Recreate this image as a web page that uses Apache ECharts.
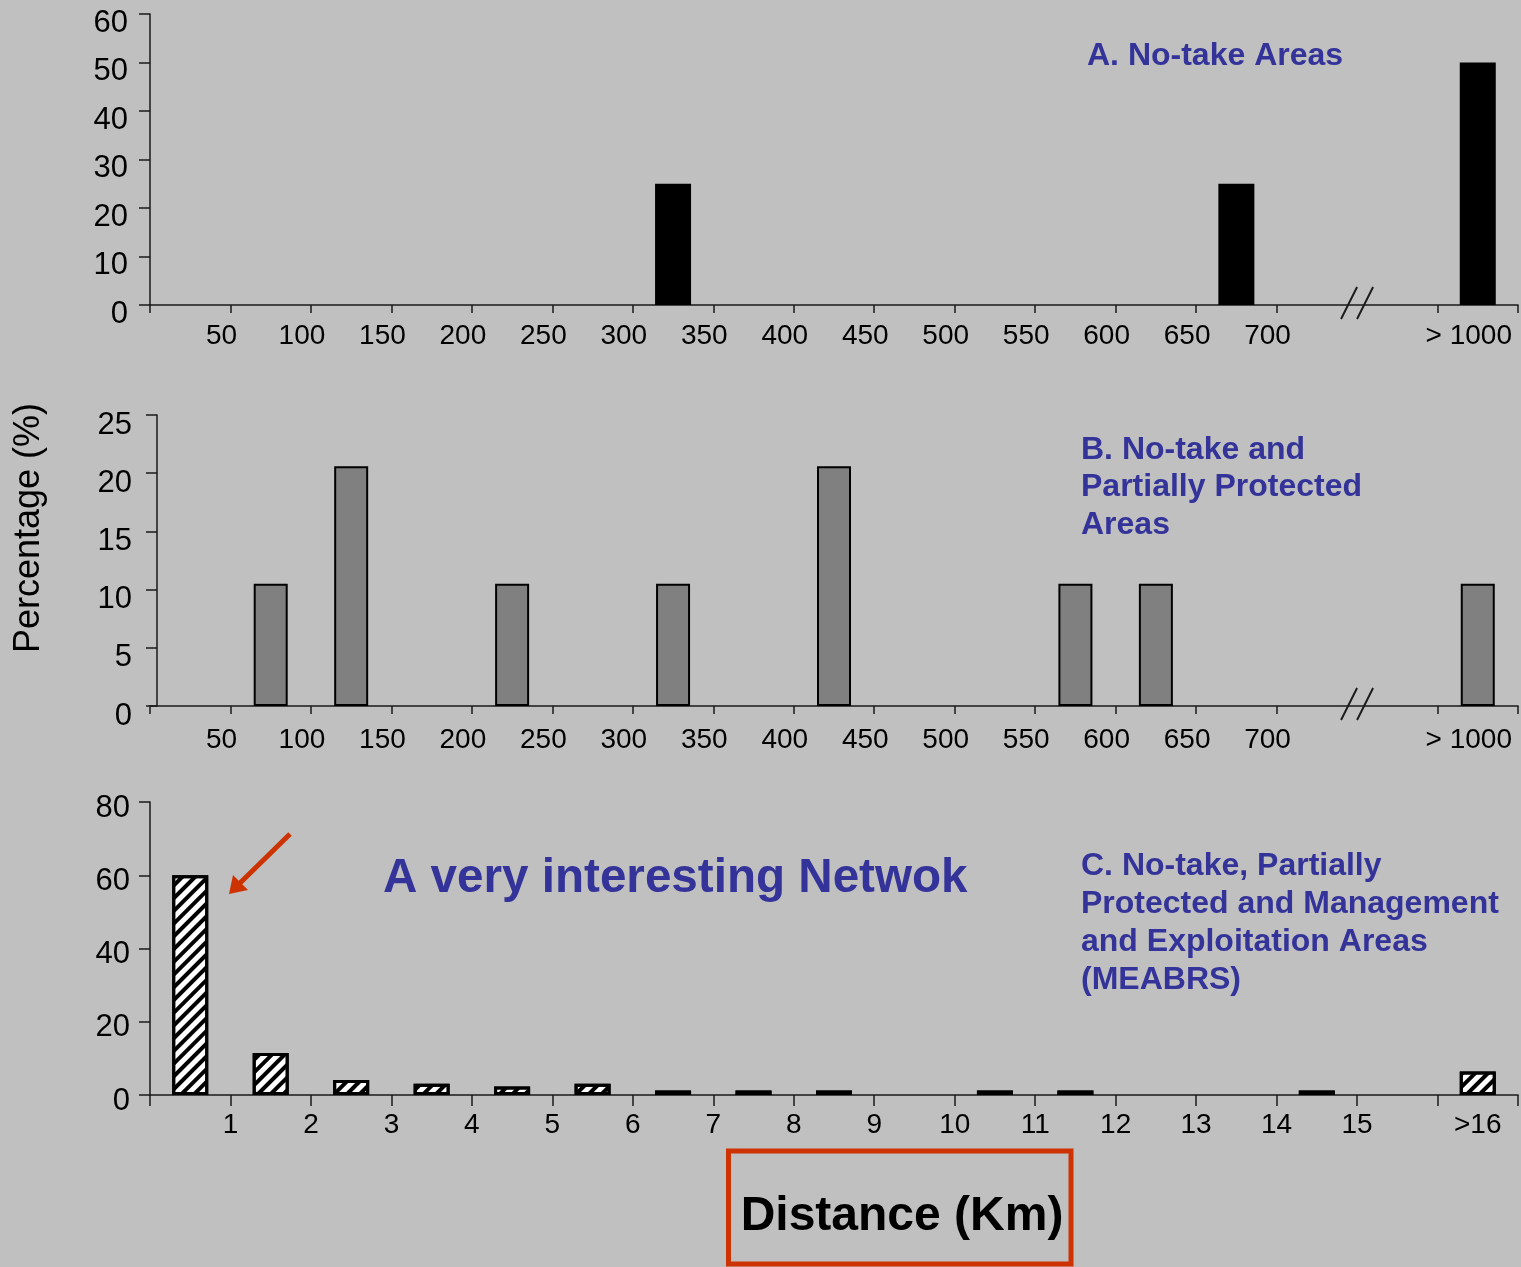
<!DOCTYPE html>
<html><head><meta charset="utf-8">
<script src="https://cdn.jsdelivr.net/npm/echarts@6/dist/echarts.min.js"></script>
<style>html,body{margin:0;padding:0;background:#c0c0c0}#c{width:1521px;height:1267px}</style>
</head><body><div id="c"></div>
<script>
// ---- data ----
const catsAB = ['0-50','50-100','100-150','150-200','200-250','250-300','300-350','350-400','400-450','450-500','500-550','550-600','600-650','650-700','700-…','…-1000','> 1000'];
const valuesA = [0,0,0,0,0,0,25,0,0,0,0,0,0,25,0,0,50];
const valuesB = [0,10.5,20.6,0,10.5,0,10.5,0,20.6,0,0,10.5,10.5,0,0,0,10.5];
const catsC = ['0-1','1-2','2-3','3-4','4-5','5-6','6-7','7-8','8-9','9-10','10-11','11-12','12-13','13-14','14-15','15-16','>16'];
const valuesC = [60,11.5,4.1,3.1,2.3,3.1,1.2,1.2,1.2,0,1.2,1.2,0,0,1.2,0,6.4];
const tickLabelsAB = ['50','100','150','200','250','300','350','400','450','500','550','600','650','700'];
const tailLabelAB = '> 1000';
const tickLabelsC = ['1','2','3','4','5','6','7','8','9','10','11','12','13','14','15'];
const tailLabelC = '>16';
const titleA = ['A. No-take Areas'];
const titleB = ['B. No-take and','Partially Protected','Areas'];
const titleC = ['C. No-take, Partially','Protected and Management','and Exploitation Areas','(MEABRS)'];
const headline = 'A very interesting Netwok';
const yName = 'Percentage (%)';
const xName = 'Distance (Km)';

// ---- chart ----
const FONT = "'Liberation Sans', Arial, sans-serif";
const BLUE = '#333399', RED = '#cc3300', AX = '#1a1a1a';
const chart = echarts.init(document.getElementById('c'));

function catAxis(gridIndex, cats, tickLen, skipIdx) {
  return {type:'category', gridIndex, data:cats, position:'bottom',
    axisLine:{show:true, onZero:false, lineStyle:{color:AX, width:1.5}},
    axisTick:{show:true, length:tickLen, lineStyle:{color:AX, width:1.5},
      interval: skipIdx == null ? 0 : function (i) { return i !== skipIdx; }},
    axisLabel:{show:false}, splitLine:{show:false}};
}
function labelAxis(gridIndex, n, ticks, tail, margin, shift) {
  return {type:'value', gridIndex, position:'bottom', min:0, max:n, interval:0.5,
    axisLine:{show:false}, axisTick:{show:false}, splitLine:{show:false},
    axisLabel:{show:true, margin, fontSize:28, color:'#000', fontFamily:FONT,
      showMinLabel:true, showMaxLabel:true,
      padding:[0, shift * 2, 0, 0],
      formatter: function (v) {
        if (Math.abs(v - (n - 0.5)) < 1e-6) return tail;
        const k = Math.round(v);
        if (Math.abs(v - k) < 1e-6 && k >= 1 && k <= ticks.length) return ticks[k - 1];
        return '';
      }}};
}
function yAx(gridIndex, max, interval, margin, offset, down) {
  return {type:'value', gridIndex, min:0, max, interval, offset: offset || 0,
    axisLine:{show:true, lineStyle:{color:AX, width:1.5}},
    axisTick:{show:true, length:11, lineStyle:{color:AX, width:1.5}},
    axisLabel:{fontSize:31, color:'#000', fontFamily:FONT, margin,
      verticalAlign:'top', lineHeight: down * 2},
    splitLine:{show:false}};
}
const gap = v => (v === 0 ? '-' : v);

chart.setOption({
  backgroundColor:'#c0c0c0',
  animation:false,
  grid:[
    {left:150, top:14, width:1369, height:291},
    {left:150, top:415, width:1369, height:291},
    {left:150, top:802, width:1369, height:293}
  ],
  xAxis:[
    catAxis(0, catsAB, 8, 15),
    labelAxis(0, catsAB.length, tickLabelsAB, tailLabelAB, 17, 9),
    catAxis(1, catsAB, 8, 15),
    labelAxis(1, catsAB.length, tickLabelsAB, tailLabelAB, 20, 9),
    catAxis(2, catsC, 11, null),
    labelAxis(2, catsC.length, tickLabelsC, tailLabelC, 16, 0)
  ],
  yAxis:[
    yAx(0, 60, 10, 22, 0, 9),
    yAx(1, 25, 5, 25, -7, 10),
    yAx(2, 80, 20, 20, 0, 6)
  ],
  series:[
    {type:'bar', xAxisIndex:0, yAxisIndex:0, barWidth:36, data:valuesA.map(gap),
      itemStyle:{color:'#000'}},
    {type:'bar', xAxisIndex:2, yAxisIndex:1, barWidth:34, data:valuesB.map(gap),
      itemStyle:{color:'#808080', borderColor:'#000', borderWidth:2}},
    {type:'bar', xAxisIndex:4, yAxisIndex:2, barWidth:36, data:valuesC.map(gap),
      itemStyle:{color:'#ffffff', borderColor:'#000', borderWidth:3,
        decal:{symbol:'rect', symbolSize:1, color:'#000', dashArrayX:[1,0], dashArrayY:[4,5], rotation:-Math.PI/4}}}
  ]
});

// ---- annotations ----
const g = [];
[[1,0],[3,1]].forEach(function (p) {
  const px = chart.convertToPixel({xAxisIndex:p[0]}, 15);
  const py = chart.convertToPixel({yAxisIndex:p[1]}, 0);
  [-8, 8].forEach(function (d) {
    g.push({type:'line', z:100, shape:{x1:px + d - 8, y1:py + 14, x2:px + d + 8, y2:py - 18},
      style:{stroke:AX, lineWidth:2}});
  });
});
function textLines(lines, x, y0, step, size) {
  lines.forEach(function (t, i) {
    g.push({type:'text', z:100, x:x, y:y0 + i * step,
      style:{text:t, fill:BLUE, font:'bold ' + size + 'px ' + FONT, align:'left', verticalAlign:'middle',
        textAlign:'left', textVerticalAlign:'middle'}});
  });
}
textLines(titleA, 1087, 56, 38, 32);
textLines(titleB, 1081, 450, 37.5, 32);
textLines(titleC, 1081, 866, 38, 32);
textLines([headline], 383, 879, 0, 47.6);
g.push({type:'text', z:100, x:29, y:528, rotation:Math.PI/2,
  style:{text:yName, fill:'#000', font:'36px ' + FONT, align:'center', verticalAlign:'middle',
    textAlign:'center', textVerticalAlign:'middle'}});
g.push({type:'rect', z:100, shape:{x:728.5, y:1151, width:342.5, height:113},
  style:{fill:'transparent', stroke:RED, lineWidth:5}});
g.push({type:'text', z:100, x:902, y:1217,
  style:{text:xName, fill:'#000', font:'bold 48px ' + FONT, align:'center', verticalAlign:'middle',
    textAlign:'center', textVerticalAlign:'middle'}});
g.push({type:'line', z:100, shape:{x1:290, y1:834, x2:239, y2:884}, style:{stroke:RED, lineWidth:5}});
g.push({type:'polygon', z:100, shape:{points:[[229,894],[233,875],[248,890]]}, style:{fill:RED}});
chart.setOption({graphic:g});
</script></body></html>
